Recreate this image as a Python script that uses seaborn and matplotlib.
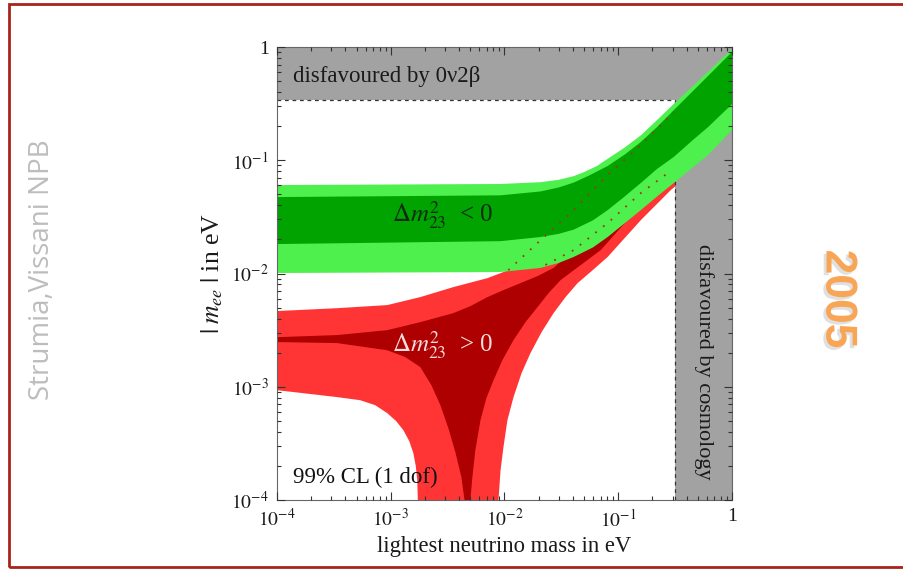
import numpy as np
import pandas as pd
import matplotlib
matplotlib.use("Agg")
import matplotlib.pyplot as plt
import seaborn as sns
from matplotlib.patches import Rectangle
from matplotlib.ticker import LogLocator, NullFormatter
import matplotlib.patheffects as pe

# ---------------- data (eV) ----------------
# inverted hierarchy (Dm^2_23 < 0), green bands
g_light_hi_x = [1e-4, 0.0092, 0.0207, 0.03, 0.0406, 0.05, 0.065, 0.0807, 0.112, 0.158, 0.22, 0.308, 0.5, 1.0]
g_light_hi_y = [0.0604, 0.0617, 0.0640, 0.0672, 0.0724, 0.0785, 0.089, 0.103, 0.128, 0.166, 0.227, 0.315, 0.495, 0.959]
g_dark_hi_x = [1e-4, 0.0092, 0.0207, 0.03, 0.0406, 0.055, 0.0807, 0.115, 0.158, 0.22, 0.308, 0.5, 1.0]
g_dark_hi_y = [0.0473, 0.0490, 0.0530, 0.0575, 0.0635, 0.0730, 0.0889, 0.113, 0.145, 0.197, 0.277, 0.450, 0.904]
g_lo_x = [1e-4, 0.0092, 0.0207, 0.03, 0.0406, 0.06, 0.0807, 0.11, 0.158, 0.22, 0.308, 0.45, 0.615, 1.0]
g_dark_lo_y = [0.0182, 0.0193, 0.0210, 0.0224, 0.0244, 0.0295, 0.0363, 0.0465, 0.0630, 0.0840, 0.107, 0.150, 0.196, 0.313]
g_light_lo_y = [0.0101, 0.0103, 0.0112, 0.0124, 0.0140, 0.0170, 0.0210, 0.0270, 0.0363, 0.0480, 0.063, 0.086, 0.111, 0.185]

# normal hierarchy (Dm^2_23 > 0), red bands
r_light_hi_x = [1e-4, 3.38e-4, 9.31e-4, 1.82e-3, 3.56e-3, 7.08e-3, 0.0108, 0.0195, 0.0381, 0.0807, 0.158, 0.308, 1.0]
r_light_hi_y = [4.66e-3, 4.94e-3, 5.26e-3, 6.19e-3, 7.59e-3, 9.10e-3, 0.0107, 0.0186, 0.0342, 0.0740, 0.136, 0.267, 0.849]
r_light_lo_left_x = [1e-4, 1.69e-4, 3.38e-4, 5.38e-4, 7.29e-4, 9.31e-4, 1.117e-3, 1.29e-3, 1.455e-3,
                     1.58e-3, 1.66e-3, 1.71e-3, 1.73e-3, 1.73e-3]
r_light_lo_left_y = [9.33e-4, 8.78e-4, 8.10e-4, 7.61e-4, 6.88e-4, 5.85e-4, 4.97e-4, 4.14e-4, 3.31e-4,
                     2.59e-4, 1.99e-4, 1.50e-4, 1e-4, 5e-5]
r_light_lo_right_x = [8.85e-3, 8.85e-3, 9.23e-3, 9.79e-3, 0.01061, 0.0120, 0.01413, 0.0169, 0.0212,
                      0.0270, 0.0344, 0.0439, 0.0596, 0.0807, 0.158, 0.290, 1.0]
r_light_lo_right_y = [5e-5, 1e-4, 1.83e-4, 2.93e-4, 5.07e-4, 8.10e-4, 1.32e-3, 1.98e-3, 3.04e-3,
                      4.47e-3, 6.19e-3, 8.22e-3, 0.0107, 0.0140, 0.0296, 0.0546, 0.151]

r_dark_hi_x = [1e-4, 3.38e-4, 9.31e-4, 1.82e-3, 3.56e-3, 5.01e-3, 7.08e-3, 9.79e-3, 0.0138, 0.0195,
               0.0270, 0.0406, 0.0807, 0.158, 0.273, 1.0]
r_dark_hi_y = [2.74e-3, 2.86e-3, 3.16e-3, 3.72e-3, 4.47e-3, 5.15e-3, 6.19e-3, 7.13e-3, 8.22e-3, 9.48e-3,
               0.0112, 0.0161, 0.0279, 0.0513, 0.0771, 0.226]
r_dark_lo_left_x = [1e-4, 3.38e-4, 9.31e-4, 1.34e-3, 1.82e-3, 2.28e-3, 2.73e-3, 3.21e-3, 3.70e-3,
                    4.18e-3, 4.45e-3, 4.45e-3]
r_dark_lo_left_y = [2.48e-3, 2.43e-3, 2.10e-3, 1.83e-3, 1.49e-3, 1.03e-3, 6.87e-4, 4.31e-4, 2.64e-4,
                    1.59e-4, 1e-4, 5e-5]
r_dark_lo_right_x = [5.01e-3, 5.01e-3, 5.22e-3, 5.54e-3, 6.15e-3, 6.93e-3, 8.0e-3, 9.59e-3, 0.0120,
                     0.0153, 0.0195, 0.0244, 0.0311, 0.0702, 0.158, 0.308, 1.0]
r_dark_lo_right_y = [5e-5, 1e-4, 1.59e-4, 2.75e-4, 5.07e-4, 7.93e-4, 1.14e-3, 1.72e-3, 2.58e-3,
                     3.72e-3, 5.05e-3, 6.71e-3, 8.74e-3, 0.0161, 0.0402, 0.0740, 0.205]

# red boundaries seen through the green band (dotted)
dot_u_x = [0.0108, 0.0195, 0.0381, 0.0807, 0.158, 0.308]
dot_u_y = [0.0107, 0.0186, 0.0342, 0.0740, 0.136, 0.267]
dot_l_x = [0.0229, 0.0406, 0.0807, 0.158, 0.273]
dot_l_y = [0.0119, 0.0161, 0.0279, 0.0513, 0.0771]

# excluded regions
bb0v_limit = 0.34      # |m_ee| limit
cosmo_limit = 0.316    # lightest mass limit

xticks = [1e-4, 1e-3, 1e-2, 1e-1, 1]
xticklabels = [r"$10^{-4}$", r"$10^{-3}$", r"$10^{-2}$", r"$10^{-1}$", "1"]
yticks = [1e-4, 1e-3, 1e-2, 1e-1, 1]
yticklabels = [r"$10^{-4}$", r"$10^{-3}$", r"$10^{-2}$", r"$10^{-1}$", "1"]

# ---------------- style ----------------
sns.set_style("white")
plt.rcParams["font.family"] = ["Liberation Serif", "DejaVu Serif"]
plt.rcParams["mathtext.fontset"] = "stix"

C_LG = "#4EF04E"
C_DG = "#00A300"
C_LR = "#FF3535"
C_DR = "#AE0000"
C_GRAY = "#A2A2A2"

fig = plt.figure(figsize=(9.04, 5.70), dpi=100)
ax = fig.add_axes([277 / 904, 70 / 570, 455 / 904, 453 / 570])
ax.set_xscale("log")
ax.set_yscale("log")
ax.set_xlim(1e-4, 1)
ax.set_ylim(1e-4, 1)


def band(xu, yu, xl, yl, color, z):
    px = list(xu) + list(xl)[::-1]
    py = list(yu) + list(yl)[::-1]
    ax.fill(px, py, color=color, lw=0, zorder=z)


# red light region: upper edge, then right lower piece reversed, then left lower piece reversed
px = r_light_hi_x + r_light_lo_right_x[::-1] + r_light_lo_left_x[::-1]
py = r_light_hi_y + r_light_lo_right_y[::-1] + r_light_lo_left_y[::-1]
ax.fill(px, py, color=C_LR, lw=0, zorder=1)
px = r_dark_hi_x + r_dark_lo_right_x[::-1] + r_dark_lo_left_x[::-1]
py = r_dark_hi_y + r_dark_lo_right_y[::-1] + r_dark_lo_left_y[::-1]
ax.fill(px, py, color=C_DR, lw=0, zorder=2)

# excluded gray regions
ax.axhspan(bb0v_limit, 1, color=C_GRAY, lw=0, zorder=3)
ax.axvspan(cosmo_limit, 1, color=C_GRAY, lw=0, zorder=3)
ax.plot([1e-4, cosmo_limit], [bb0v_limit, bb0v_limit], color="#333333", lw=0.9,
        ls=(0, (3, 3)), zorder=3.5)
ax.plot([cosmo_limit, cosmo_limit], [1e-4, bb0v_limit], color="#333333", lw=0.9,
        ls=(0, (3, 3)), zorder=3.5)

# green regions
band(g_light_hi_x, g_light_hi_y, g_lo_x, g_light_lo_y, C_LG, 4)
band(g_dark_hi_x, g_dark_hi_y, g_lo_x, g_dark_lo_y, C_DG, 5)

# dotted red boundaries through green
dots = pd.concat([
    pd.DataFrame({"x": dot_u_x, "y": dot_u_y, "edge": "u"}),
    pd.DataFrame({"x": dot_l_x, "y": dot_l_y, "edge": "l"}),
])
for e, d in dots.groupby("edge"):
    sns.lineplot(data=d, x="x", y="y", ax=ax, color="#9A3A12", lw=1.3,
                 linestyle=(0, (1, 4.5)), sort=False, estimator=None, zorder=6)

# texts
ax.text(1.38e-4, 0.55, "disfavoured by 0ν2β", fontsize=16.5, color="#1a1a1a",
        va="center", ha="left", zorder=7)
ax.text(0.566, 1.65e-3, "disfavoured by cosmology", fontsize=16, color="#1a1a1a",
        rotation=-90, va="center", ha="center", zorder=7)
ax.text(1.38e-4, 1.57e-4, "99% CL (1 dof)", fontsize=16.5, color="#111111",
        va="center", ha="left", zorder=7)
ax.text(2.84e-3, 0.0328, r"$\Delta m^2_{23}$  < 0", fontsize=18, color="#0d2a0d",
        va="center", ha="center", zorder=7)
ax.text(2.84e-3, 2.33e-3, r"$\Delta m^2_{23}$  > 0", fontsize=18, color="#f7dede",
        va="center", ha="center", zorder=7)

# axes, ticks
ax.set_xticks(xticks)
ax.set_xticklabels(xticklabels)
ax.set_yticks(yticks)
ax.set_yticklabels(yticklabels)
ax.xaxis.set_minor_locator(LogLocator(base=10, subs=np.arange(2, 10)))
ax.yaxis.set_minor_locator(LogLocator(base=10, subs=np.arange(2, 10)))
ax.xaxis.set_minor_formatter(NullFormatter())
ax.yaxis.set_minor_formatter(NullFormatter())
ax.tick_params(which="both", direction="in", bottom=True, left=True, top=True, right=True,
               colors="#333333", labelcolor="#1a1a1a", labelsize=14, width=0.8)
ax.tick_params(which="major", length=6, pad=6)
ax.tick_params(which="minor", length=3)
ax.xaxis.set_zorder(9)
ax.yaxis.set_zorder(9)
for s in ax.spines.values():
    s.set_color("#666666")
    s.set_linewidth(0.8)
    s.set_zorder(8)
ax.set_xlabel("lightest neutrino mass in eV", fontsize=16.3, color="#1a1a1a", labelpad=4)
ax.set_ylabel(r"$|\;m_{ee}\;|$ in eV", fontsize=18.5, color="#1a1a1a", labelpad=4)
ax.grid(False)

# slide decorations
fig.patches.append(Rectangle((9 / 904, 3 / 570), 1.2, 563 / 570, transform=fig.transFigure,
                             fill=False, edgecolor="#A8231A", lw=2.0, zorder=0))
fig.text(42 / 904, 0.526, "Strumia,Vissani NPB", rotation=90, color="#BDBDBD",
         fontsize=20, family=["Open Sans", "DejaVu Sans"], va="center", ha="center")
fig.text(838 / 904, 1 - 299 / 570, "2005", rotation=-90, color="#F8A556", fontsize=32,
         fontweight="bold", family=["Liberation Sans", "DejaVu Sans"], va="center", ha="center",
         path_effects=[pe.withSimplePatchShadow(offset=(-2, -2), shadow_rgbFace="#999999", alpha=0.3)])

fig.savefig("out.png", dpi=100)
